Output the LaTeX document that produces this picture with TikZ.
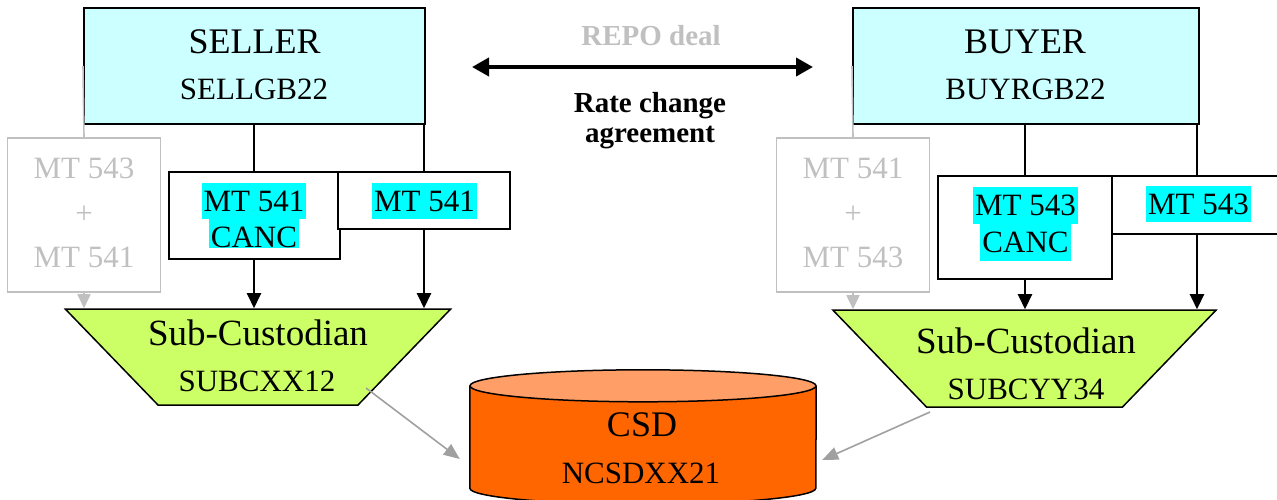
\documentclass[tikz,border=0pt]{standalone}
\usepackage{fontspec}
\setmainfont{Liberation Serif}
\usetikzlibrary{shapes.geometric,arrows.meta}

\definecolor{partyfill}{HTML}{CCFFFF}
\definecolor{hilite}{HTML}{00FFFF}
\definecolor{custfill}{HTML}{CCFF66}
\definecolor{csdbody}{HTML}{FF6600}
\definecolor{csdtop}{HTML}{FF9E66}
\definecolor{faded}{HTML}{C0C0C0}
\definecolor{feedgrey}{HTML}{A0A0A0}

\tikzstyle{party}=[draw,line width=2pt,fill=partyfill,minimum height=116pt,inner sep=0pt]
\tikzstyle{partyname}=[anchor=base,inner sep=0pt,font=\fontsize{36}{36}\selectfont]
\tikzstyle{partycode}=[anchor=base,inner sep=0pt,font=\fontsize{31}{31}\selectfont]
\tikzstyle{msg}=[draw,line width=2pt,fill=white,inner sep=0pt]
\tikzstyle{oldmsg}=[draw=faded,line width=1.6pt,minimum width=153pt,minimum height=154pt,inner sep=0pt]
\tikzstyle{oldtxt}=[anchor=base,inner sep=0pt,text=faded,font=\fontsize{31}{31}\selectfont]
\tikzstyle{hl}=[anchor=base,fill=hilite,inner xsep=2pt,inner ysep=0pt,text height=28pt,text depth=8pt,font=\fontsize{31}{31}\selectfont]
\tikzstyle{cust}=[shape=trapezium,trapezium angle=46,shape border rotate=180,draw,line width=1.5pt,fill=custfill]
\tikzstyle{custtxt}=[anchor=base,inner sep=0pt,font=\fontsize{37}{37}\selectfont]
\tikzstyle{csdbox}=[minimum width=346pt,minimum height=134pt,inner sep=0pt]
\tikzstyle{csdside}=[draw,line width=1.5pt,fill=csdbody]
\tikzstyle{csdend}=[draw,line width=1.5pt,fill=csdtop]
\tikzstyle{dealtxt}=[anchor=base,inner sep=0pt,font=\bfseries\fontsize{29}{30}\selectfont]
\tikzstyle{link}=[draw,line width=2pt]
\tikzstyle{edge}=[draw,line width=2pt,-{Triangle[length=15pt,width=14pt]}]
\tikzstyle{oldlink}=[draw,faded,line width=1.6pt]
\tikzstyle{oldedge}=[draw,faded,line width=1.6pt,-{Triangle[length=14pt,width=13pt]}]
\tikzstyle{feed}=[draw,feedgrey,line width=1.6pt,-{Triangle[length=16pt,width=13pt]}]
\tikzstyle{deal}=[draw,line width=4pt,{Triangle[length=17pt,width=18pt]}-{Triangle[length=17pt,width=18pt]}]

\begin{document}
\begin{tikzpicture}[x=1pt,y=1pt]
\useasboundingbox (0,0) rectangle (1277,-499);

% seller and buyer
\foreach \pos/\name/\w in {{(254.5,-66)/seller/341}, {(1026,-66)/buyer/346}}
  \node[party, minimum width=\w pt] (\name) at \pos {};
\node[partyname] (sellername) at (254.5,-53) {SELLER};
\node[partycode] (sellercode) at (254,-99) {SELLGB22};
\node[partyname] (buyername) at (1025,-53) {BUYER};
\node[partycode] (buyercode) at (1025.5,-99) {BUYRGB22};

% old instructions
\foreach \pos/\name in {{(84,-215)/oldL}, {(853,-215)/oldR}}
  \node[oldmsg] (\name) at \pos {};
\node[oldtxt] (oldLa) at (84,-178) {MT 543};
\node[oldtxt,anchor=center] (oldLb) at (84,-215) {+};
\node[oldtxt] (oldLc) at (84,-267) {MT 541};
\node[oldtxt] (oldRa) at (853,-178) {MT 541};
\node[oldtxt,anchor=center] (oldRb) at (853,-215) {+};
\node[oldtxt] (oldRc) at (853,-267) {MT 543};

% new instructions
\node[msg, minimum width=171pt, minimum height=87pt] (cancL) at (254,-215.5) {};
\node[msg, minimum width=172pt, minimum height=57pt] (newL) at (424,-200.5) {};
\node[msg, minimum width=174pt, minimum height=103pt] (cancR) at (1025,-227.5) {};
\node[msg, minimum width=170pt, minimum height=58pt] (newR) at (1197,-205) {};
\node[hl] (cancLa) at (254,-211) {MT 541};
\node[hl,text depth=1pt] (cancLb) at (254,-247) {CANC};
\node[hl] (newLa) at (424.5,-211) {MT 541};
\node[hl,text depth=9pt] (cancRa) at (1025.5,-215) {MT 543};
\node[hl,text depth=9pt] (cancRb) at (1025.5,-252) {CANC};
\node[hl] (newRa) at (1198.5,-214) {MT 543};

% custodians
\node[cust, inner xsep=100pt, inner ysep=48pt] (subL) at (258,-357) {};
\node[cust, inner xsep=98pt, inner ysep=48.5pt] (subR) at (1024.5,-358.5) {};
\node[custtxt] (subLname) at (258,-345) {Sub-Custodian};
\node[partycode] (subLcode) at (257,-391) {SUBCXX12};
\node[custtxt] (subRname) at (1026,-353) {Sub-Custodian};
\node[partycode] (subRcode) at (1026,-399) {SUBCYY34};

% CSD
\node[csdbox] (csd) at (643,-437) {};
\path[csdside] ([yshift=-16pt]csd.north west) -- ([yshift=16pt]csd.south west)
  arc[start angle=180, end angle=360, x radius=173pt, y radius=16pt]
  -- ([yshift=-16pt]csd.north east);
\path[csdend] ([yshift=-16pt]csd.north) ellipse [x radius=173pt, y radius=16pt];
\node[partyname] (csdname) at (642,-436) {CSD};
\node[partycode] (csdcode) at (641,-483) {NCSDXX21};

% connectors
\draw[link] (seller.south -| cancL.north) -- (cancL.north);
\draw[link] (newL.north |- seller.south) -- (newL.north);
\draw[link] (cancR.north |- buyer.south) -- (cancR.north);
\draw[link] (newR.north |- buyer.south) -- (newR.north);
\foreach \source/\dest in {cancL/subL, newL/subL, cancR/subR, newR/subR}
  \path[edge] (\source.south) -- (\source.south |- \dest.north);
\foreach \source/\dest in {seller/oldL, buyer/oldR}
  \path[oldlink] (\source.west) -- (\dest.north);
\foreach \source/\dest in {oldL/subL, oldR/subR}
  \path[oldedge] (\source.south) -- (\source.south |- \dest.north);
\path[feed] ([xshift=108pt,yshift=-31pt]subL.center) -- ([xshift=-10pt,yshift=-22pt]csd.west);
\path[feed] ([xshift=-94.5pt,yshift=-53.5pt]subR.center) -- ([xshift=6pt,yshift=-23pt]csd.east);

% the deal
\path[deal] ([xshift=46pt,yshift=-1pt]seller.east) -- ([xshift=-39pt,yshift=-1pt]buyer.west);
\node[dealtxt, text=faded] (repo) at (651,-45) {REPO deal};
\node[dealtxt, align=center] (rate) at (650,-142) {Rate change\\agreement};
\end{tikzpicture}
\end{document}
